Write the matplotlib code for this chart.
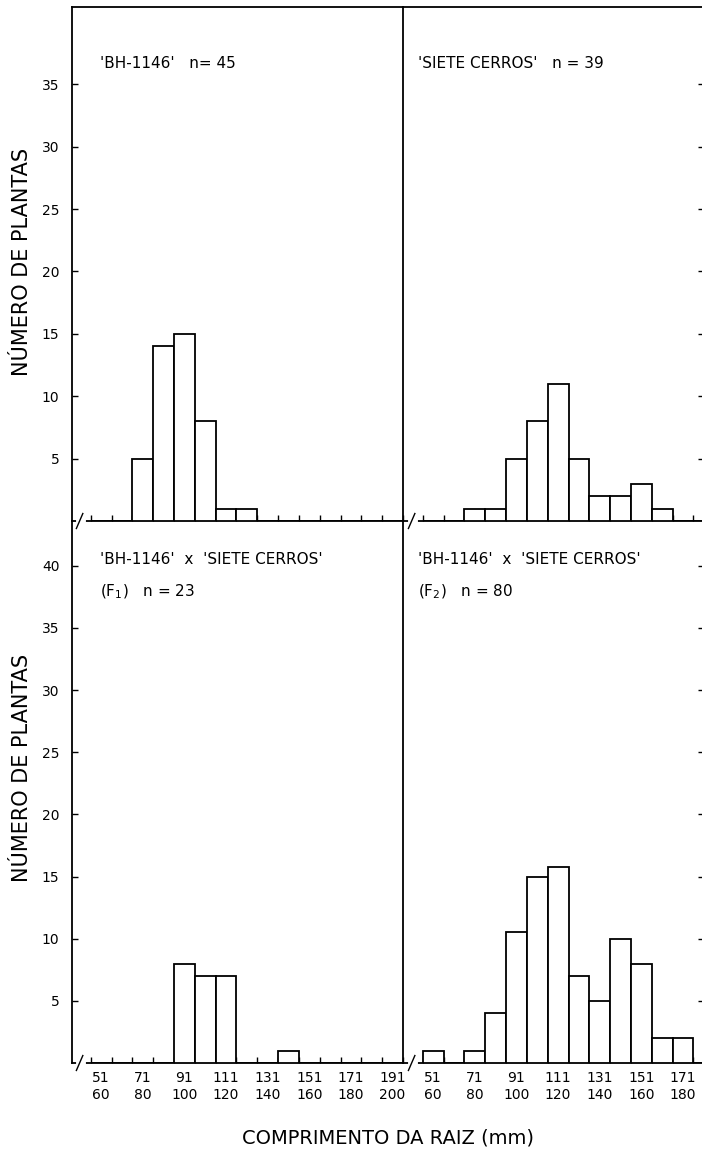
import numpy as np
import matplotlib
matplotlib.use("Agg")
import matplotlib.pyplot as plt

# root length classes (mm)
class_lower = [51, 61, 71, 81, 91, 101, 111, 121, 131, 141, 151, 161, 171, 181, 191]
class_upper = [60, 70, 80, 90, 100, 110, 120, 130, 140, 150, 160, 170, 180, 190, 200]

# number of plants per class
counts_bh = [0, 0, 5, 14, 15, 8, 1, 1, 0, 0, 0, 0, 0, 0, 0]
counts_sc = [0, 0, 1, 1, 5, 8, 11, 5, 2, 2, 3, 1, 0, 0, 0]
counts_f1 = [0, 0, 0, 0, 8, 7, 7, 0, 0, 1, 0, 0, 0, 0, 0]
counts_f2 = [1, 0, 1, 4, 10.5, 15, 15.8, 7, 5, 10, 8, 2, 2, 0, 0]

titles = [
    ["'BH-1146'   n= 45", ""],
    ["'SIETE CERROS'   n = 39", ""],
    ["'BH-1146'  x  'SIETE CERROS'", r"(F$_{1}$)   n = 23"],
    ["'BH-1146'  x  'SIETE CERROS'", r"(F$_{2}$)   n = 80"],
]

plt.rcParams['font.family'] = ['DejaVu Sans']
W, H = 702, 1151
fig = plt.figure(figsize=(W / 100, H / 100), dpi=100)
fig.patch.set_facecolor('white')

x_left, x_mid, x_right = 72, 403, 704
y_top, y_mid, y_bot = 7, 521, 1063


def frac(x0, x1, y0, y1):
    return [x0 / W, 1 - y1 / H, (x1 - x0) / W, (y1 - y0) / H]


lo = np.array(class_lower)
hi = np.array(class_upper)
edges = lo - 0.5
centers = (lo + hi) / 2.0
scale = (x_mid - x_left) / (200.5 - 41.5)   # px per mm

panels = [
    (counts_bh, frac(x_left, x_mid, y_top, y_mid), 41.2, [5, 10, 15, 20, 25, 30, 35], 'L', False),
    (counts_sc, frac(x_mid, x_right, y_top, y_mid), 41.2, [5, 10, 15, 20, 25, 30, 35], 'R', False),
    (counts_f1, frac(x_left, x_mid, y_mid, y_bot), 43.6, [5, 10, 15, 20, 25, 30, 35, 40], 'L', True),
    (counts_f2, frac(x_mid, x_right, y_mid, y_bot), 43.6, [5, 10, 15, 20, 25, 30, 35, 40], 'R', True),
]

lw = 1.3
for i, (counts, rect, ytop, yt, side, bottom) in enumerate(panels):
    ax = fig.add_axes(rect)
    ax.patch.set_visible(False)
    width_px = rect[2] * W
    xmin = 41.5 if side == 'L' else 41.0
    ax.bar(edges, counts, width=10, align='edge', facecolor='white',
           edgecolor='black', linewidth=lw, zorder=3)

    for s in ax.spines.values():
        s.set_linewidth(lw)
        s.set_color('black')
    if side == 'R':
        ax.spines['left'].set_visible(False)
    if bottom:
        ax.spines['top'].set_visible(False)

    # x ticks at class boundaries, labels at class centres
    ax.set_xticks(np.append(edges, 200.5))
    ax.tick_params(axis='x', which='major', direction='in', length=4, width=1,
                   labelbottom=False, top=False)
    if bottom:
        ax.set_xticks(centers[::2], minor=True)
        ax.set_xticklabels([f"{a}\n{b}" for a, b in zip(lo[::2], hi[::2])],
                           minor=True, fontsize=10, linespacing=1.2)
        ax.tick_params(axis='x', which='minor', length=0, pad=6)
    else:
        ax.set_xticks([], minor=True)

    ax.set_yticks(yt)
    if side == 'L':
        ax.tick_params(axis='y', direction='in', length=4, width=1, labelsize=10,
                       pad=9, left=True, right=False)
    else:
        ax.tick_params(axis='y', direction='in', length=4, width=1,
                       left=False, right=True, labelleft=False)

    # limits after ticks so the tick lists do not widen the view
    ax.set_xlim(xmin, xmin + width_px / scale)
    ax.set_ylim(0, ytop)

    # axis break mark near the origin
    bx = 45.5
    dy = 0.6
    ax.plot([bx - 1.2, bx + 1.2], [0, 0], color='white', lw=3.5, clip_on=False, zorder=5)
    ax.plot([bx - 1.9, bx + 1.2], [-dy, dy], color='black', lw=1, clip_on=False, zorder=6)

    t1, t2 = titles[i]
    xt = (100 - x_left) / width_px if side == 'L' else (418 - x_mid) / width_px
    hpx = rect[3] * H
    if bottom:
        ax.text(xt, (y_bot - 560) / hpx, t1, transform=ax.transAxes, fontsize=11,
                ha='left', va='center')
        ax.text(xt, (y_bot - 592) / hpx, t2, transform=ax.transAxes, fontsize=11,
                ha='left', va='center')
    else:
        ax.text(xt, (y_mid - 63) / hpx, t1, transform=ax.transAxes, fontsize=11,
                ha='left', va='center')

fig.text(22 / W, 1 - 262 / H, 'NÚMERO DE PLANTAS', rotation=90, fontsize=15,
         ha='center', va='center')
fig.text(22 / W, 1 - 768 / H, 'NÚMERO DE PLANTAS', rotation=90, fontsize=15,
         ha='center', va='center')
fig.text(388 / W, 1 - 1138 / H, 'COMPRIMENTO DA RAIZ (mm)', fontsize=14,
         ha='center', va='center')

plt.savefig('out.png', dpi=100, facecolor='white')
